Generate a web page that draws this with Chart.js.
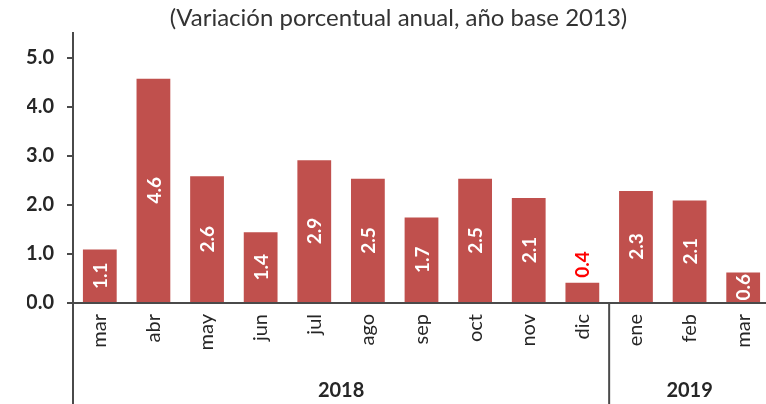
<!DOCTYPE html>
<html><head><meta charset="utf-8">
<script src="https://cdn.jsdelivr.net/npm/chart.js@4/dist/chart.umd.min.js"></script>
<style>
html,body{margin:0;padding:0;background:#fff;overflow:hidden;width:766px;height:404px;}
#wrap{position:relative;width:772px;height:404px;}
</style></head><body>
<div id="wrap"><canvas id="c"></canvas></div>
<script>
const months = ['mar','abr','may','jun','jul','ago','sep','oct','nov','dic','ene','feb','mar'];
const years = ['2018','2019'];
const yearSpans = [10, 3];
const values = [1.09, 4.57, 2.58, 1.44, 2.91, 2.53, 1.74, 2.53, 2.14, 0.41, 2.28, 2.09, 0.62];
const valueLabels = ['1.1','4.6','2.6','1.4','2.9','2.5','1.7','2.5','2.1','0.4','2.3','2.1','0.6'];
const yTicks = [0, 1, 2, 3, 4, 5];
const titleText = '(Variación porcentual anual, año base 2013)';

const FONT = 'Lato';
const highlightIndex = 9;
const axisColor = '#4a4a4a';
const textColor = '#262626';

const labelPlugin = {
  id: 'valLabels',
  afterDatasetsDraw(chart) {
    const ctx = chart.ctx;
    const meta = chart.getDatasetMeta(0);
    meta.data.forEach((el, i) => {
      ctx.save();
      ctx.font = 'bold 19px ' + FONT;
      ctx.textBaseline = 'middle';
      if (i === highlightIndex) {
        ctx.fillStyle = '#ff0000';
        ctx.translate(el.x, el.y - 5);
        ctx.rotate(-Math.PI / 2);
        ctx.textAlign = 'left';
      } else {
        ctx.fillStyle = '#ffffff';
        ctx.translate(el.x, (el.y + el.base) / 2);
        ctx.rotate(-Math.PI / 2);
        ctx.textAlign = 'center';
      }
      ctx.fillText(valueLabels[i], 0, 1);
      ctx.restore();
    });
  }
};

const groupPlugin = {
  id: 'groups',
  afterDraw(chart) {
    const ctx = chart.ctx;
    const xs = chart.scales.x;
    const area = chart.chartArea;
    const bottom = chart.height;
    ctx.save();
    ctx.strokeStyle = axisColor;
    ctx.lineWidth = 2;
    const half = (xs.getPixelForValue(1) - xs.getPixelForValue(0)) / 2;
    let start = 0;
    const bounds = [area.left];
    yearSpans.forEach((n) => {
      start += n;
      bounds.push(xs.getPixelForValue(start - 1) + half);
    });
    ctx.beginPath();
    ctx.moveTo(area.left, area.top);
    ctx.lineTo(area.left, bottom);
    for (let k = 1; k < bounds.length - 1; k++) {
      ctx.moveTo(bounds[k], area.bottom);
      ctx.lineTo(bounds[k], bottom);
    }
    ctx.stroke();
    ctx.fillStyle = textColor;
    ctx.font = 'bold 20px ' + FONT;
    ctx.textAlign = 'center';
    ctx.textBaseline = 'middle';
    years.forEach((y, k) => {
      ctx.fillText(y, (bounds[k] + bounds[k + 1]) / 2, 391);
    });
    ctx.restore();
  }
};

new Chart(document.getElementById('c'), {
  type: 'bar',
  data: {
    labels: months,
    datasets: [{
      data: values,
      backgroundColor: '#C0504D',
      borderWidth: 0,
      barPercentage: 0.63,
      categoryPercentage: 1.0
    }]
  },
  options: {
    responsive: true,
    maintainAspectRatio: false,
    animation: false,
    devicePixelRatio: 1,
    layout: { padding: { left: 27, right: 2, top: 0, bottom: 0 } },
    plugins: {
      legend: { display: false },
      tooltip: { enabled: false },
      title: {
        display: true,
        text: titleText,
        color: '#333333',
        font: { family: FONT, size: 24, weight: 'normal', lineHeight: 1 },
        padding: { top: 6, bottom: 3 }
      }
    },
    scales: {
      x: {
        grid: { display: false, drawTicks: false },
        border: { display: true, color: axisColor, width: 2 },
        ticks: {
          color: textColor,
          font: { family: FONT, size: 20 },
          minRotation: 90,
          maxRotation: 90,
          padding: 11,
          autoSkip: false
        },
        afterFit(s) { s.height = 101; s.paddingLeft = 0; s.paddingRight = 0; }
      },
      y: {
        min: 0,
        max: 5.5,
        afterBuildTicks(s) { s.ticks = yTicks.map(v => ({ value: v })); },
        grid: { drawOnChartArea: false, drawTicks: true, tickLength: 6, color: axisColor, lineWidth: 2 },
        border: { display: true, color: axisColor, width: 2 },
        ticks: {
          color: textColor,
          font: { family: FONT, size: 20, weight: 'bold' },
          padding: 13,
          callback: (v) => Number(v).toFixed(1)
        },
        afterFit(s) { s.width = 46; s.paddingTop = 0; s.paddingBottom = 0; }
      }
    }
  },
  plugins: [labelPlugin, groupPlugin]
});
</script>
</body></html>
